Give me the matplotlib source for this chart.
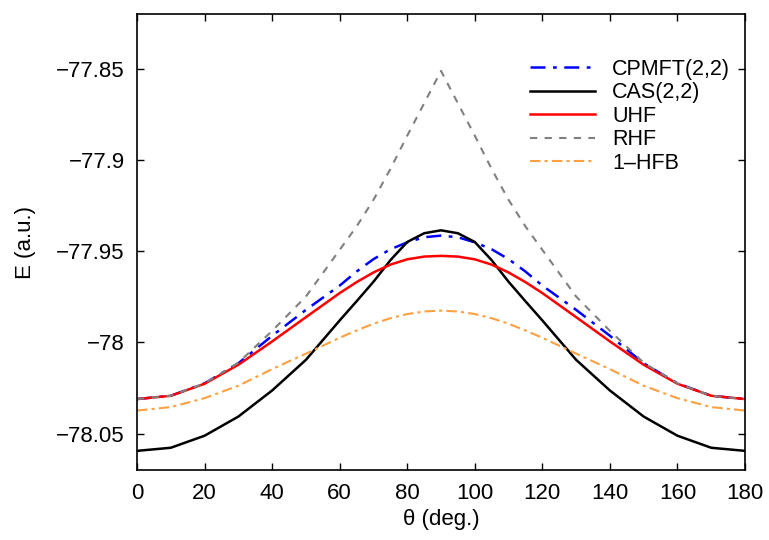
import matplotlib
matplotlib.use("Agg")
import matplotlib.pyplot as plt
from matplotlib.ticker import FuncFormatter

plt.rcParams['font.family'] = ['Liberation Sans', 'DejaVu Sans']

theta = [0, 10, 20, 30, 40, 50, 60, 65, 70, 75, 80, 85, 90,
         95, 100, 105, 110, 115, 120, 130, 140, 150, 160, 170, 180]

cpmft_left = [-78.0311, -78.0293, -78.0225, -78.0115, -77.9964, -77.9822, -77.9689,
              -77.9612, -77.9544, -77.9490, -77.9452, -77.9424, -77.9415]
cas_left = [-78.0595, -78.0578, -78.0512, -78.0407, -78.0264, -78.0096, -77.9880,
            -77.9775, -77.9668, -77.9550, -77.9450, -77.9402, -77.9386]
uhf_left = [-78.0311, -78.0293, -78.0227, -78.0123, -77.9995, -77.9862, -77.9730,
            -77.9670, -77.9617, -77.9574, -77.9545, -77.9530, -77.9526]
rhf_left = [-78.0311, -78.0293, -78.0225, -78.0112, -77.9937, -77.9749, -77.9493,
            -77.9365, -77.9219, -77.9050, -77.8867, -77.8690, -77.8512]
hfb_left = [-78.0374, -78.0355, -78.0306, -78.0238, -78.0147, -78.0062, -77.9975,
            -77.9935, -77.9898, -77.9868, -77.9845, -77.9831, -77.9826]

cpmft = cpmft_left + cpmft_left[-2::-1]
cas = cas_left + cas_left[-2::-1]
uhf = uhf_left + uhf_left[-2::-1]
rhf = rhf_left + rhf_left[-2::-1]
hfb = hfb_left + hfb_left[-2::-1]

xticks = [0, 20, 40, 60, 80, 100, 120, 140, 160, 180]
yticks = [-78.05, -78.0, -77.95, -77.9, -77.85]

fig = plt.figure(figsize=(7.69, 5.40), dpi=100)
ax = fig.add_axes([0.1782, 0.1296, 0.9688 - 0.1782, 0.9741 - 0.1296])

ax.plot(theta, cpmft, color='#0000ff', lw=1.8, dashes=(6, 3, 1.5, 3), label='CPMFT(2,2)')
ax.plot(theta, cas, color='black', lw=1.8, label='CAS(2,2)')
ax.plot(theta, uhf, color='#ff0000', lw=1.8, label='UHF')
ax.plot(theta, rhf, color='#808080', lw=1.5, dashes=(3.5, 3.5), label='RHF')
ax.plot(theta, hfb, color='#ffa040', lw=1.5, dashes=(5, 2, 1.5, 2), label='1–HFB')

ax.set_xlim(0, 180)
ax.set_ylim(-78.07, -77.82)
ax.set_xticks(xticks)
ax.set_yticks(yticks)
ax.yaxis.set_major_formatter(FuncFormatter(lambda v, p: ('%g' % v).replace('-', '\u2212')))
ax.tick_params(direction='in', length=5, width=1, top=True, right=True,
               labelsize=16, pad=9)
for s in ax.spines.values():
    s.set_linewidth(1.2)

ax.set_xlabel('θ (deg.)', fontsize=16, labelpad=4)
ax.set_ylabel('E (a.u.)', fontsize=16, labelpad=14)

leg = ax.legend(loc='upper right', bbox_to_anchor=(1.0, 0.935), frameon=False,
                fontsize=15.5, handlelength=3.0, handletextpad=0.8,
                labelspacing=0.12, borderaxespad=0.3)

fig.savefig('out.png', dpi=100)
